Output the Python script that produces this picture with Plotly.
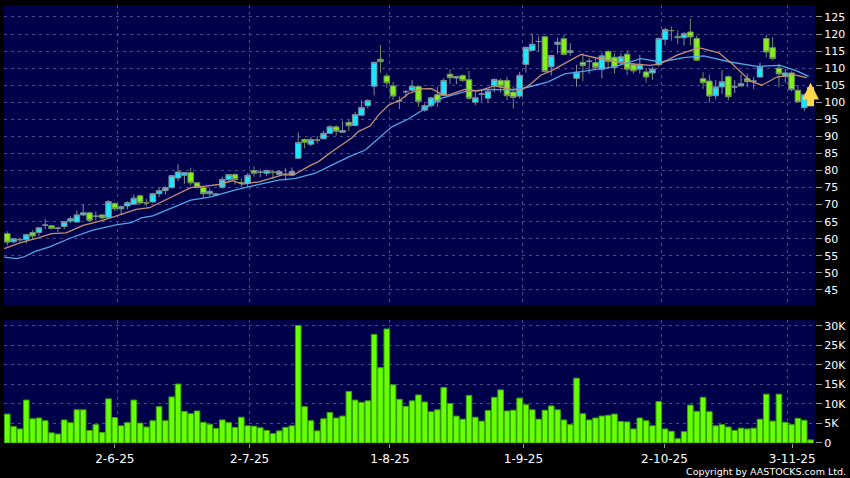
# Stock chart with candles, moving averages and volume
import plotly.graph_objects as go
from plotly.subplots import make_subplots

# Candles, one row per trading day
opens = [61.5, 59.1, 59.8, 59.7, 61.8, 61.8, 64.0, 63.8, 63.1, 63.6,
         65.2, 64.9, 67.0, 67.6, 66.6, 67.0, 66.2, 70.3, 68.8, 69.6,
         70.1, 72.6, 70.5, 70.8, 73.2, 74.1, 75.0, 77.8, 78.6, 79.4,
         76.4, 75.0, 73.2, 72.8, 75.1, 77.4, 78.8, 76.4, 76.2, 80.0,
         79.5, 79.2, 79.5, 78.9, 78.9, 78.7, 83.6, 89.1, 87.7, 88.9,
         89.3, 90.9, 92.8, 91.2, 94.1, 93.2, 96.2, 99.0, 104.7, 112.6,
         107.7, 104.8, 100.4, 103.1, 103.5, 104.6, 97.7, 99.0, 102.2, 102.0,
         108.2, 107.1, 107.8, 106.6, 100.0, 102.4, 101.2, 104.9, 106.4, 106.4,
         103.0, 101.8, 111.1, 115.2, 117.8, 119.2, 110.4, 117.0, 118.6, 114.6,
         107.0, 111.7, 112.0, 111.6, 109.6, 114.9, 113.2, 111.8, 114.1, 111.0,
         109.7, 108.9, 108.6, 111.0, 118.4, 121.0, 119.3, 118.9, 120.6, 118.7,
         106.9, 106.2, 101.9, 104.5, 107.5, 104.5, 104.8, 106.9, 106.2, 107.4,
         118.7, 116.0, 110.0, 107.6, 108.6, 103.5, 98.4, 101.0]
closes = [59.0, 60.0, 59.7, 61.2, 60.8, 63.2, 64.0, 63.0, 63.1, 65.0,
          65.9, 67.0, 67.6, 65.4, 66.6, 66.1, 70.9, 68.8, 69.4, 70.6,
          71.9, 70.5, 70.5, 73.2, 74.1, 75.0, 78.5, 79.6, 79.4, 76.4,
          75.0, 73.2, 73.9, 73.1, 77.4, 78.8, 77.4, 76.4, 78.6, 79.2,
          79.5, 80.0, 79.5, 79.7, 78.9, 79.7, 88.2, 88.2, 89.1, 88.9,
          90.9, 92.8, 91.5, 91.7, 93.1, 96.4, 98.5, 100.5, 111.7, 111.9,
          105.7, 101.8, 100.4, 103.1, 104.7, 100.2, 99.0, 101.3, 100.2, 106.4,
          107.2, 107.5, 106.4, 101.2, 101.3, 102.4, 103.2, 106.7, 104.7, 101.9,
          101.4, 107.9, 116.1, 117.0, 117.8, 109.0, 113.7, 117.6, 114.0, 115.1,
          108.8, 110.7, 112.0, 110.2, 113.6, 111.9, 110.2, 113.3, 109.7, 109.2,
          111.1, 107.4, 109.7, 118.7, 121.3, 121.0, 118.9, 120.1, 119.1, 112.3,
          105.7, 101.8, 104.5, 106.0, 101.6, 104.5, 105.4, 106.0, 106.2, 110.3,
          114.7, 112.8, 108.3, 108.6, 103.7, 100.1, 102.2, 101.0]
highs = [62.2, 60.0, 60.3, 61.5, 62.5, 63.4, 65.7, 64.0, 63.4, 65.2,
         66.6, 68.3, 70.1, 67.9, 68.0, 67.1, 71.3, 70.7, 69.8, 71.0,
         73.0, 73.0, 71.7, 73.5, 75.0, 75.4, 78.6, 81.8, 79.6, 80.8,
         76.6, 75.2, 74.7, 73.4, 78.2, 79.0, 79.2, 77.7, 79.2, 81.2,
         80.3, 80.3, 80.2, 80.1, 80.8, 80.9, 91.1, 89.4, 89.9, 90.1,
         91.7, 93.3, 93.3, 94.6, 94.8, 97.2, 100.6, 100.9, 111.9, 116.8,
         108.5, 106.0, 101.7, 103.6, 106.5, 104.8, 99.7, 101.6, 104.6, 107.0,
         109.7, 107.7, 108.2, 109.2, 103.5, 103.6, 103.8, 107.0, 107.0, 107.5,
         104.7, 108.9, 116.3, 120.2, 119.3, 119.4, 113.9, 119.0, 119.7, 117.3,
         111.0, 114.4, 113.0, 113.3, 114.4, 115.3, 114.4, 114.3, 115.3, 111.6,
         113.9, 110.1, 110.4, 119.0, 121.8, 122.2, 121.1, 120.6, 124.5, 119.5,
         108.8, 108.1, 106.5, 109.4, 107.9, 106.5, 108.1, 108.4, 107.5, 111.6,
         119.7, 119.1, 111.3, 109.9, 109.1, 105.0, 102.5, 101.5]
lows = [58.0, 58.7, 59.0, 58.6, 60.0, 60.8, 62.8, 62.7, 62.0, 62.8,
        64.6, 64.7, 66.6, 64.9, 65.4, 65.6, 65.9, 68.1, 67.1, 68.6,
        69.8, 70.1, 69.5, 70.5, 72.2, 73.0, 74.7, 76.9, 76.1, 75.6,
        74.7, 72.0, 72.4, 72.4, 74.7, 76.6, 75.9, 75.1, 75.1, 78.2,
        78.0, 78.4, 77.4, 78.4, 77.0, 78.4, 83.3, 86.5, 87.1, 87.9,
        89.1, 90.7, 90.2, 91.1, 91.5, 93.0, 96.0, 98.2, 102.0, 108.6,
        104.2, 100.7, 98.0, 101.4, 103.1, 98.7, 97.2, 98.5, 98.7, 101.8,
        105.3, 105.3, 106.0, 100.7, 99.2, 100.2, 100.0, 102.9, 102.7, 100.6,
        98.1, 101.1, 108.7, 115.0, 114.8, 108.7, 107.8, 114.2, 113.8, 113.6,
        104.5, 106.2, 108.3, 109.6, 107.0, 110.2, 108.4, 110.8, 108.0, 108.4,
        108.4, 105.8, 106.6, 110.5, 116.7, 118.0, 117.0, 116.6, 116.7, 112.0,
        103.9, 99.9, 100.7, 102.4, 100.6, 102.7, 104.6, 104.4, 103.9, 107.2,
        113.2, 112.3, 104.4, 105.7, 103.2, 100.0, 97.4, 100.5]

# Volume in thousands
volumes = [7.4, 4.2, 3.6, 11.0, 6.2, 6.4, 5.7, 2.6, 2.3, 5.9,
           5.2, 8.5, 8.5, 3.2, 4.7, 2.7, 11.3, 6.5, 4.4, 5.2,
           11.0, 5.1, 4.1, 5.7, 9.3, 5.7, 11.8, 15.1, 8.1, 7.5,
           8.2, 5.3, 4.8, 3.7, 5.9, 5.2, 4.0, 6.6, 4.4, 4.3,
           3.9, 3.2, 2.4, 3.1, 4.0, 4.4, 30.1, 9.3, 5.7, 3.1,
           6.2, 7.8, 6.4, 6.9, 13.2, 11.0, 10.4, 10.8, 27.8, 19.3,
           29.2, 14.9, 11.2, 9.4, 10.8, 12.3, 10.5, 8.0, 8.5, 14.2,
           10.1, 6.9, 6.1, 12.2, 6.6, 5.6, 8.3, 11.7, 13.6, 8.2,
           8.4, 11.5, 9.8, 8.5, 6.1, 8.4, 9.5, 8.5, 5.9, 4.7,
           16.6, 7.5, 5.9, 6.4, 6.9, 7.1, 7.4, 5.5, 5.4, 3.6,
           6.4, 5.7, 4.4, 10.6, 3.6, 3.0, 1.1, 2.9, 9.7, 8.1,
           11.7, 8.0, 4.4, 4.7, 4.1, 3.2, 3.8, 3.6, 3.8, 6.1,
           12.5, 5.6, 12.5, 5.3, 4.7, 6.3, 5.8, 0.8]

# Moving averages at these candle positions
ma_fast_pos = [-0.5, 2, 5, 7, 9.3, 12, 15.1, 17.5, 20.4, 22.5, 25.1, 27.2, 29, 32, 33.4,
               35.6, 37.2, 39.8, 43.5, 45.3, 47.7, 49.2, 51.3, 54.5, 55.5, 57.4, 58.7, 60.3, 62.1,
               63.4, 65.5, 67.1, 68.7, 69.7, 72.3, 74.4, 77, 79.7, 81.3, 82.8, 84.4, 86, 88.1,
               90.7, 93.3, 95.4, 96.5, 99.1, 101.7, 103.3, 105.9, 109.3, 112.5, 114.6, 117.5,
               119.3, 121.7, 124.3, 126.4]
ma_fast = [57.1, 58.8, 60.3, 61.5, 61.7, 63.9, 65.4, 66.9, 68.6, 69.1, 71.4, 73.4, 75.0, 75.6, 75.9,
           77.0, 76.0, 76.7, 78.7, 78.7, 81.3, 82.6, 85.5, 89.6, 91.4, 93.1, 96.3, 99.2, 100.6,
           102.5, 103.9, 104.0, 102.3, 102.1, 103.8, 103.3, 104.8, 103.8, 103.6, 105.4, 108.0, 109.2, 111.4,
           114.0, 112.9, 112.4, 111.6, 111.3, 110.8, 111.3, 113.8, 116.0, 114.5, 111.3, 106.2,
           105.0, 107.4, 108.1, 107.2]
ma_slow_pos = [-0.5, 1.5, 2.8, 4.4, 6.7, 10.1, 13.5, 17.2, 19.6, 21.2, 23, 25.1, 27.2, 29, 32,
               36.1, 39.3, 42.9, 45.6, 48.7, 51.3, 54, 56.6, 58.7, 60.8, 63.4,
               66, 68.7, 72.3, 76, 79.7, 82.3, 85.5, 88.1, 90.7, 93.3, 95.9,
               100.2, 103.3, 107, 110.1, 114.3, 118.5, 122.2, 124.8, 126.7]
ma_slow = [54.6, 54.2, 54.8, 56.3, 57.6, 60.3, 62.5, 64.1, 64.7, 66.1, 66.7, 68.3, 69.8, 71.3, 72.2,
           74.3, 75.7, 77.2, 77.7, 79.2, 81.6, 84.0, 86.0, 89.4, 92.8, 95.1,
           98.2, 101.2, 103.1, 103.8, 103.6, 104.4, 106.0, 108.3, 109.0, 109.6, 110.4,
           112.8, 111.8, 113.1, 113.6, 111.8, 110.5, 110.8, 109.2, 107.6]

# Axis labels
date_tick_pos = [17.0, 38.3, 60.5, 81.6, 103.9, 124.1]
date_grid_pos = [17.4, 38.3, 60.4, 81.4, 103.4, 123.4]
date_labels = ["2-6-25", "2-7-25", "1-8-25", "1-9-25", "2-10-25", "3-11-25"]
price_ticks = [45, 50, 55, 60, 65, 70, 75, 80, 85, 90, 95, 100, 105, 110, 115, 120, 125]
volume_ticks = [0, 5, 10, 15, 20, 25, 30]
volume_labels = ["0", "5K", "10K", "15K", "20K", "25K", "30K"]

days = list(range(len(closes)))

fig = make_subplots(rows=2, cols=1, shared_xaxes=True)

fig.add_trace(go.Candlestick(
    x=days, open=opens, high=highs, low=lows, close=closes,
    increasing=dict(fillcolor="#19E6FF", line=dict(color="#7F9099", width=1)),
    decreasing=dict(fillcolor="#84F01A", line=dict(color="#6E9060", width=1)),
    whiskerwidth=0,
), row=1, col=1)
fig.add_trace(go.Scatter(x=ma_slow_pos, y=ma_slow, mode="lines",
                         line=dict(color="#4FA8E8", width=1.3)), row=1, col=1)
fig.add_trace(go.Scatter(x=ma_fast_pos, y=ma_fast, mode="lines",
                         line=dict(color="#C89070", width=1.3)), row=1, col=1)

fig.add_trace(go.Bar(x=days, y=volumes,
                     marker=dict(color="#68FF00", line=dict(color="#38A808", width=1))),
              row=2, col=1)

grid = "#4A4A8C"
fig.update_layout(
    width=850, height=478, autosize=False,
    margin=dict(l=4, r=32, t=5, b=35),
    paper_bgcolor="#000000", plot_bgcolor="#00004A",
    showlegend=False, bargap=0.12, boxgap=0.12, boxgroupgap=0,
    font=dict(family="DejaVu Sans", size=11, color="#FFFFFF"),
)
fig.update_xaxes(range=[-0.52, 127.7], rangeslider_visible=False, showgrid=False, zeroline=False,
                 tickmode="array", tickvals=date_tick_pos, ticktext=date_labels,
                 minor=dict(tickmode="array", tickvals=date_grid_pos, showgrid=True,
                            gridcolor=grid, griddash="3px,4px", gridwidth=1, ticks=""))
fig.update_xaxes(showticklabels=False, ticks="", row=1, col=1)
fig.update_xaxes(ticks="outside", ticklen=4, tickcolor="#999999", tickfont=dict(size=12),
                 ticklabelstandoff=1, row=2, col=1)
fig.update_yaxes(side="right", gridcolor=grid, griddash="3px,4px", gridwidth=1, zeroline=False,
                 ticks="outside", ticklen=6, tickcolor="#999999", tickmode="array")
fig.update_yaxes(range=[40.3, 128.5], tickvals=price_ticks, domain=[0.3128, 1], row=1, col=1)
fig.update_yaxes(range=[0, 31.5], tickvals=volume_ticks, ticktext=volume_labels,
                 domain=[0, 0.2808], row=2, col=1)

# Arrow on the latest candle
fig.add_annotation(x=127, y=105.7, ax=0, ay=25, xref="x", yref="y", showarrow=True,
                   arrowhead=2, arrowsize=0.48, arrowwidth=7, arrowcolor="#FFD84A", text="")

fig.add_annotation(text="Copyright by AASTOCKS.com Ltd.", xref="paper", yref="paper",
                   x=1.0405, y=-0.064, xanchor="right", yanchor="middle", showarrow=False,
                   font=dict(size=9.5, color="#FFFFFF"))

fig.write_html("out.html", config=dict(displayModeBar=False),
               post_script="document.body.style.margin='0';")
